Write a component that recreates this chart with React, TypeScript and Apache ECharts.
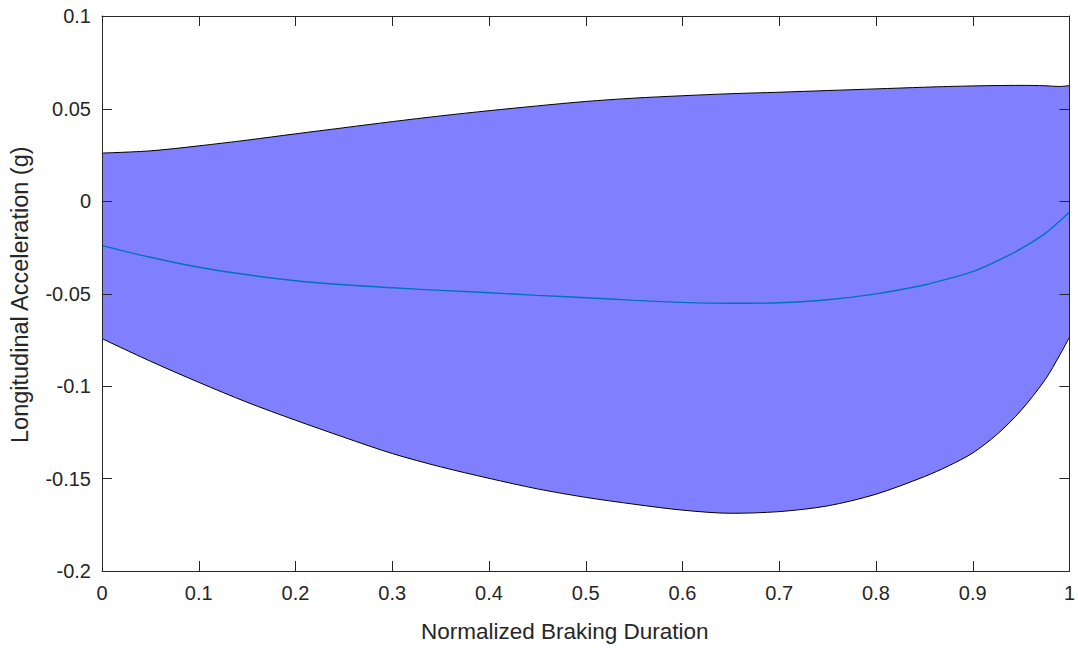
import React, { useEffect, useRef } from "react";
import * as echarts from "echarts";

const xs = [0, 0.05, 0.1, 0.15, 0.2, 0.25, 0.3, 0.35, 0.4, 0.45, 0.5, 0.55, 0.6, 0.65, 0.7, 0.75, 0.8, 0.85, 0.875, 0.9, 0.925, 0.95, 0.975, 0.99, 1];
const upper = [0.0259, 0.0271, 0.0298, 0.0329, 0.0363, 0.0396, 0.0429, 0.046, 0.0488, 0.0514, 0.0538, 0.0556, 0.0569, 0.058, 0.0588, 0.0597, 0.0606, 0.0615, 0.0619, 0.0622, 0.0624, 0.0625, 0.0623, 0.0619, 0.0624];
const lower = [-0.0744, -0.0866, -0.098, -0.1088, -0.1185, -0.1277, -0.1365, -0.1437, -0.1499, -0.1556, -0.1602, -0.1639, -0.1671, -0.1688, -0.1679, -0.1648, -0.1585, -0.149, -0.1432, -0.1362, -0.1262, -0.1132, -0.0965, -0.0833, -0.0737];
const mean = [-0.0241, -0.0304, -0.0358, -0.0399, -0.0431, -0.0453, -0.0469, -0.0483, -0.0496, -0.051, -0.0523, -0.0537, -0.0548, -0.0553, -0.055, -0.0534, -0.0502, -0.0454, -0.042, -0.0382, -0.0325, -0.0258, -0.0175, -0.0108, -0.0059];

const xTicks = [0, 0.1, 0.2, 0.3, 0.4, 0.5, 0.6, 0.7, 0.8, 0.9, 1];
const yTicks = [-0.2, -0.15, -0.1, -0.05, 0, 0.05, 0.1];

const xLabel = "Normalized Braking Duration";
const yLabel = "Longitudinal Acceleration (g)";

const FONT = "'Liberation Sans', Arial, Helvetica, sans-serif";
const AX = "#262626";

export default function App() {
  const ref = useRef<HTMLDivElement>(null);
  useEffect(() => {
    if (!ref.current) return;
    const chart = echarts.init(ref.current, undefined, { renderer: "svg" });
    const pair = (arr: number[]) => xs.map((x, i) => [x, arr[i]]);
    const xMin = xTicks[0];
    const xMax = xTicks[xTicks.length - 1];
    const yMin = yTicks[0];
    const yMax = yTicks[yTicks.length - 1];
    const c: any = {
      z: 5,
      axisLine: { show: true, onZero: false, lineStyle: { color: AX, width: 1 } },
      axisTick: { show: false },
      splitLine: { show: false },
    };
    const sm = { smooth: 0.3, symbol: "none", silent: true };
    const TL = 10;
    const snap = (v: number) => Math.round(v) + 0.5;
    chart.setOption({
      animation: false,
      grid: { left: 102, right: 8, top: 16, bottom: 77 },
      xAxis: [
        {
          type: "value", min: xMin, max: xMax, interval: 0.1, position: "bottom", ...c,
          axisLabel: { color: AX, fontSize: 20, fontFamily: FONT, margin: 12 },
        },
        {
          type: "value", min: xMin, max: xMax, interval: 0.1, position: "top", ...c,
          axisLabel: { show: false },
        },
      ],
      yAxis: [
        {
          type: "value", min: yMin, max: yMax, interval: 0.05, position: "left", ...c,
          axisLabel: { color: AX, fontSize: 20, fontFamily: FONT, margin: 11 },
        },
        {
          type: "value", min: yMin, max: yMax, interval: 0.05, position: "right", ...c,
          axisLabel: { show: false },
        },
      ],
      graphic: [
        {
          type: "text", left: 421, top: 620,
          style: { text: xLabel, fill: AX, font: `22.5px ${FONT}` },
        },
        {
          type: "text", x: 8, y: 443, rotation: Math.PI / 2,
          style: { text: yLabel, fill: AX, font: `23.5px ${FONT}`, textVerticalAlign: "top" },
        },
      ],
      series: [
        {
          type: "line", data: pair(upper), ...sm, z: 1,
          lineStyle: { opacity: 0 }, areaStyle: { color: "#8080ff", opacity: 1, origin: "start" },
        },
        {
          type: "line", data: pair(lower), ...sm, z: 1,
          lineStyle: { opacity: 0 }, areaStyle: { color: "#ffffff", opacity: 1, origin: "start" },
        },
        {
          type: "line", data: pair(upper), ...sm, z: 3,
          lineStyle: { color: "#000000", width: 1 },
        },
        {
          type: "line", data: pair(lower), ...sm, z: 3,
          lineStyle: { color: "#000000", width: 1 },
        },
        {
          type: "line", data: pair(mean), ...sm, z: 3,
          lineStyle: { color: "#0072BD", width: 1.4 },
        },
        {
          type: "custom", z: 6, silent: true, clip: false,
          data: [[xMin, yMin]],
          renderItem: (params: any, api: any) => {
            const children: any[] = [];
            const style = { stroke: AX, lineWidth: 1 };
            const bottom = api.coord([xMin, yMin])[1];
            const top = api.coord([xMin, yMax])[1];
            const left = api.coord([xMin, yMin])[0];
            const right = api.coord([xMax, yMin])[0];
            xTicks.forEach((t) => {
              const px = snap(api.coord([t, yMin])[0]);
              children.push({ type: "line", shape: { x1: px, y1: bottom, x2: px, y2: bottom - TL }, style });
              children.push({ type: "line", shape: { x1: px, y1: top, x2: px, y2: top + TL }, style });
            });
            yTicks.forEach((t) => {
              const py = snap(api.coord([xMin, t])[1]);
              children.push({ type: "line", shape: { x1: left, y1: py, x2: left + TL, y2: py }, style });
              children.push({ type: "line", shape: { x1: right, y1: py, x2: right - TL, y2: py }, style });
            });
            return { type: "group", children };
          },
        },
      ],
    });
    return () => chart.dispose();
  }, []);
  return <div ref={ref} style={{ position: "absolute", left: 0, top: 0, width: 1078, height: 648 }} />;
}
